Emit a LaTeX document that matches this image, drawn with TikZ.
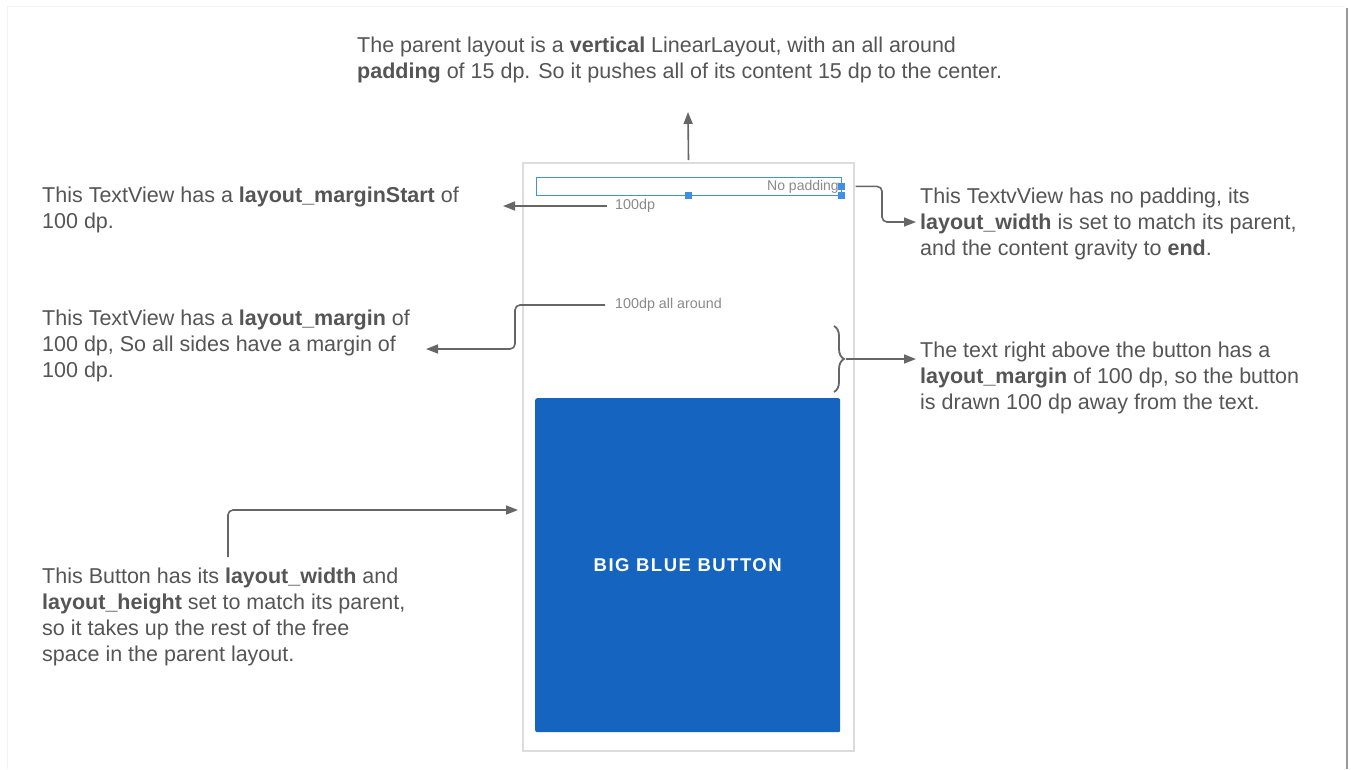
\documentclass[tikz,border=0pt]{standalone}
\usepackage{xcolor}
\usepackage{fontspec}
\setmainfont{Liberation Sans}
\newfontfamily\btnfont[LetterSpace=8]{Liberation Sans}
\usepackage{tikz}
\usetikzlibrary{arrows.meta, positioning, decorations.pathreplacing}
\definecolor{notegray}{HTML}{555555}
\definecolor{linegray}{HTML}{666666}
\definecolor{labelgray}{HTML}{8A8A8A}
\definecolor{framegray}{HTML}{DCDCDC}
\definecolor{selblue}{HTML}{3D8FE8}
\definecolor{btnblue}{HTML}{1565C0}
\tikzstyle{note} = [anchor=north west, inner sep=0pt, align=left, text=notegray, font=\fontsize{21.5}{26}\selectfont]
\tikzstyle{dplabel} = [anchor=west, inner sep=0pt, text=labelgray, font=\fontsize{14.3}{16}\selectfont]
\tikzstyle{arrow} = [line width=1.6pt, draw=linegray, rounded corners=5pt, -{Triangle[length=12pt,width=9pt]}]
\tikzstyle{handle} = [rectangle, fill=selblue, minimum size=7pt, inner sep=0pt]

\begin{document}
\begin{tikzpicture}[x=1pt, y=-1pt]
            \useasboundingbox (0,0) rectangle (1351,769);
            % page edge
            \draw[black!5, line width=1pt] (7,769) -- (7,6) -- (1345,6);
            \draw[black!40, line width=2pt] (1347,8) -- (1347,769);

            % phone screen
            \node[draw=framegray, line width=2pt, fill=white, minimum width=331pt, minimum height=588pt, anchor=north west] (screen) at (522,162) {};
            \node[draw=selblue, line width=0.8pt, minimum width=305pt, minimum height=18pt, anchor=north west, inner sep=0pt] (tv) at (536,177) {};
            \node[anchor=east, inner sep=0pt, text=labelgray, font=\fontsize{14}{16}\selectfont] (nopad) at (839,187) {No padding};
            \node[handle] (h1) at (tv.south) {};
            \node[handle] (h2) at (tv.east) {};
            \node[handle] (h3) at (tv.south east) {};
            \node[dplabel] (dp) at (615,206) {100dp};
            \node[dplabel] (dpall) at (615,305) {100dp all around};
            \node[fill=btnblue, rounded corners=2pt, minimum width=305pt, minimum height=334pt, anchor=north west, text=white, font=\btnfont\bfseries\fontsize{18.5}{20}\selectfont] (btn) at (535,398) {BIG BLUE BUTTON};
            \draw[decorate, decoration={brace, amplitude=10pt}, line width=1.8pt, linegray] (834,326) -- (834,392) coordinate[midway, xshift=12pt] (brtip);

            % notes
            \node[note] (top) at (357,37) {The parent layout is a \textbf{vertical} LinearLayout, with an all around\\\textbf{padding} of 15 dp. So it pushes all of its content 15 dp to the center.};
            \node[note] (start) at (42,187) {This TextView has a \textbf{layout\_marginStart} of\\100 dp.};
            \node[note] (margin) at (42,310) {This TextView has a \textbf{layout\_margin} of\\100 dp, So all sides have a margin of\\100 dp.};
            \node[note] (button) at (42,568) {This Button has its \textbf{layout\_width} and\\\textbf{layout\_height} set to match its parent,\\so it takes up the rest of the free\\space in the parent layout.};
            \node[note] (width) at (920,188) {This TextvView has no padding, its\\\textbf{layout\_width} is set to match its parent,\\and the content gravity to \textbf{end}.};
            \node[note] (above) at (920,342) {The text right above the button has a\\\textbf{layout\_margin} of 100 dp, so the button\\is drawn 100 dp away from the text.};

            % free ends of the connectors
            \coordinate (topend) at (688,112);
            \coordinate (startend) at (503,206);
            \coordinate (marginend) at (426,349);
            \coordinate (widthend) at (916,222);
            \coordinate (aboveend) at (916,359);
            \coordinate (btnend) at (518,510);

            \draw[arrow] (screen.north) ++(0,-2) -- (topend);
            \draw[arrow] (dp.west) ++(-8,0) -- (startend);
            \draw[arrow] (dpall.west) ++(-10,0) -| (515,330) |- (marginend);
            \draw[arrow] (h2.east) ++(10,0) -| (882,210) |- (widthend);
            \draw[arrow] (brtip) -- (aboveend);
            \draw[arrow] (button.north west) ++(186,-11) |- (btnend);
        \end{tikzpicture}
\end{document}
